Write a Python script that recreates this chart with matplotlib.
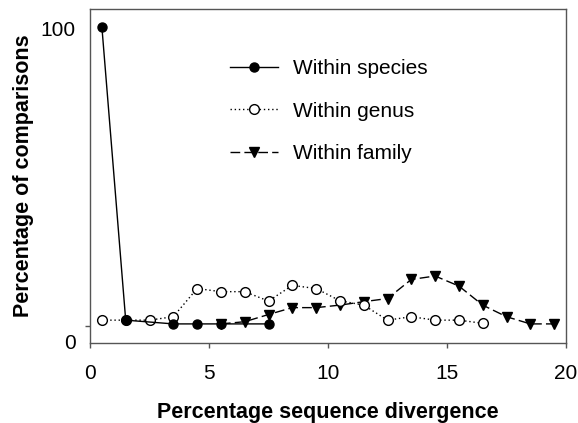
import matplotlib
matplotlib.use("Agg")
import matplotlib.pyplot as plt
import matplotlib.transforms as mtransforms

plt.rcParams['font.family'] = ['Liberation Sans', 'DejaVu Sans']

# Данные
species_x = [0.5, 1.5, 3.5, 4.5, 5.5, 7.5]
species_y = [95.5, 1.9, 0.7, 0.7, 0.7, 0.7]

genus_x = [0.5, 1.5, 2.5, 3.5, 4.5, 5.5, 6.5, 7.5, 8.5, 9.5, 10.5, 11.5, 12.5, 13.5, 14.5, 15.5, 16.5]
genus_y = [1.9, 1.9, 1.9, 3.0, 12.0, 11.0, 11.0, 8.0, 13.0, 12.0, 8.1, 6.7, 1.9, 3.0, 1.9, 1.9, 0.9]

family_x = [5.5, 6.5, 7.5, 8.5, 9.5, 10.5, 11.5, 12.5, 13.5, 14.5, 15.5, 16.5, 17.5, 18.5, 19.5]
family_y = [0.7, 1.4, 3.7, 5.9, 5.9, 6.7, 7.8, 8.8, 14.9, 16.0, 12.8, 6.7, 3.0, 0.7, 0.7]

x_ticks = [0, 5, 10, 15, 20]
y_ticks = [0, 100]

fig = plt.figure(figsize=(5.78, 4.23), dpi=100)
ax = fig.add_axes([90 / 578, 1 - 343 / 423, 476 / 578, 334 / 423])

ax.plot(family_x, family_y, color='black', lw=1.0, dashes=(7, 3),
        marker='v', ms=7, mfc='black', mec='black', label='Within family', zorder=2)
ax.plot(genus_x, genus_y, color='black', lw=1.0, linestyle=(0, (1, 2)),
        marker='o', ms=7, mfc='white', mec='black', mew=1.0, label='Within genus', zorder=3)
ax.plot(species_x, species_y, color='black', lw=1.0, linestyle='-',
        marker='o', ms=6.5, mfc='black', mec='black', label='Within species', zorder=4)

ax.set_xlim(0, 20)
ax.set_ylim(-5.4, 101.3)
ax.set_xticks(x_ticks)
ax.set_xticklabels([str(t) for t in x_ticks])
ax.set_yticks(y_ticks)
ax.set_yticklabels([str(t) for t in y_ticks])

for sp in ax.spines.values():
    sp.set_color('#555555')
    sp.set_linewidth(1.0)

ax.tick_params(axis='both', direction='out', length=3.6, width=1.0, color='#555555',
               labelsize=15, labelcolor='black')
ax.tick_params(axis='x', pad=11.5)
ax.tick_params(axis='y', pad=6.8)

# подписи оси Y сдвинуты вниз, как в исходнике
offset = mtransforms.ScaledTranslation(0, -15 / 100, fig.dpi_scale_trans)
for lab in ax.get_yticklabels():
    lab.set_transform(lab.get_transform() + offset)
ax.yaxis.get_major_ticks()[1].tick1line.set_visible(False)

ax.set_xlabel('Percentage sequence divergence', fontsize=15.5, fontweight='bold', labelpad=14)
ax.set_ylabel('Percentage of comparisons', fontsize=15.5, fontweight='bold', labelpad=4.5)

handles, labels = ax.get_legend_handles_labels()
order = [2, 1, 0]
ax.legend([handles[i] for i in order], [labels[i] for i in order],
          loc='upper left', bbox_to_anchor=(0.294, 0.85), frameon=False,
          fontsize=15, handlelength=2.3, handletextpad=0.72, labelspacing=1.13,
          borderpad=0, borderaxespad=0)

plt.savefig('out.png', dpi=100)
plt.close()
